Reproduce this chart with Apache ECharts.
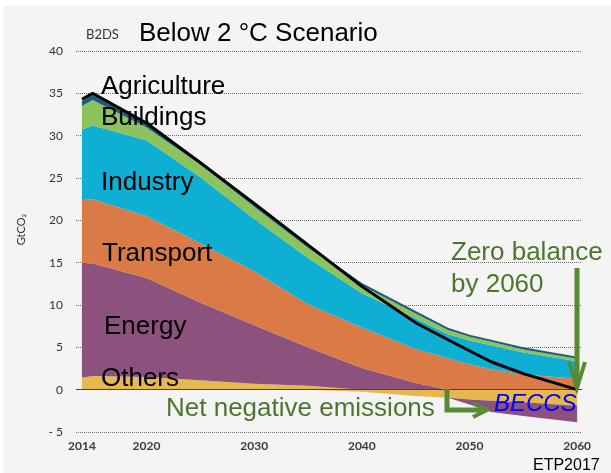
<!DOCTYPE html>
<html><head><meta charset="utf-8">
<script src="https://cdn.jsdelivr.net/npm/echarts@6/dist/echarts.min.js"></script>
<style>
html,body{margin:0;padding:0;background:#fff;}
#bg{position:absolute;left:3px;top:6px;width:608px;height:467px;background:#f4f4f4;}
#chart{position:absolute;left:0;top:0;width:611px;height:473px;}
</style></head><body>
<div id="bg"></div><div id="chart"></div>
<script>
// ---- data (GtCO2) ----
const years       = [2014, 2015, 2020, 2025, 2030, 2035, 2040, 2045, 2048, 2050, 2052, 2055, 2060];
const others      = [1.4, 1.6, 1.5, 1.1, 0.7, 0.45, -0.25, -0.75, -0.95, -1.15, -1.3, -1.5, -1.9];
const energy      = [13.6, 13.3, 11.7, 9.2, 6.9, 4.55, 2.55, 0.8, 0, -0.6, -1.35, -1.6, -1.95];
const transport   = [7.4, 7.6, 7.3, 7.0, 6.4, 5.1, 4.8, 4.0, 3.7, 3.0, 2.4, 1.8, 1.3];
const industry    = [8.3, 8.7, 8.95, 7.8, 6.2, 5.45, 4.05, 3.6, 2.85, 2.8, 2.85, 2.6, 2.05];
const buildings   = [2.8, 3.0, 1.5, 1.5, 1.4, 1.2, 0.9, 0.6, 0.5, 0.45, 0.4, 0.35, 0.3];
const agriculture = [0.6, 0.6, 0.45, 0.4, 0.4, 0.35, 0.3, 0.3, 0.25, 0.25, 0.25, 0.25, 0.25];
const netTotal    = [34.3, 35.0, 31.5, 26.8, 22.0, 17.1, 12.2, 7.9, 5.9, 4.6, 3.3, 1.9, 0];
const xTickYears  = [2014, 2020, 2030, 2040, 2050, 2060];

const colors = {
  others: '#e6b94f', energy: '#8d517e', transport: '#d97a47',
  industry: '#0fafd4', buildings: '#8cc35c', agriculture: '#1f5c79'
};

// value first, year second, so that the stack is computed on the value dimension
const pairs = arr => years.map((y, i) => [arr[i], y]);
const pos = arr => pairs(arr.map(v => Math.max(v, 0)));
const neg = arr => pairs(arr.map(v => Math.min(v, 0)));

function area(name, data, color, stack) {
  return {
    name, type: 'line', stack, stackStrategy: 'all', data,
    encode: { x: 1, y: 0 },
    symbol: 'none', smooth: false,
    lineStyle: { width: 0 }, areaStyle: { color, opacity: 1 },
    itemStyle: { color }, z: 2
  };
}

const chart = echarts.init(document.getElementById('chart'), null, { renderer: 'canvas' });
const green = '#4d7530', arrowGreen = '#578a33';
const labelFont = 'Liberation Sans, Arial, sans-serif';

chart.setOption({
  animation: false,
  backgroundColor: 'transparent',
  grid: { left: 76, right: 29, top: 51, bottom: 41, containLabel: false },
  xAxis: {
    type: 'value', min: 2013.45, max: 2060.45,
    axisLine: { show: false }, axisTick: { show: false }, splitLine: { show: false },
    axisLabel: {
      customValues: xTickYears, formatter: v => String(v), margin: 8,
      color: '#3a3a3a', fontSize: 12, fontWeight: 'bold', fontFamily: 'Lato, sans-serif'
    }
  },
  yAxis: {
    type: 'value', min: -5, max: 40, interval: 5,
    name: 'GtCO\u2082', nameLocation: 'middle', nameGap: 49,
    nameTextStyle: { color: '#333', fontSize: 11, fontFamily: 'Lato, sans-serif', padding: [0, 0, 0, 24] },
    axisLine: { show: false }, axisTick: { show: false },
    axisLabel: {
      formatter: v => (v < 0 ? '- ' + (-v) : String(v)), margin: 13,
      color: '#333', fontSize: 12, fontFamily: 'Lato, sans-serif'
    },
    splitLine: { show: true, lineStyle: { type: 'dotted', color: '#6a6a6a', width: 1 } }
  },
  series: [
    area('Others', pos(others), colors.others, 'pos'),
    area('Energy', pos(energy), colors.energy, 'pos'),
    area('Transport', pairs(transport), colors.transport, 'pos'),
    area('Industry', pairs(industry), colors.industry, 'pos'),
    area('Buildings', pairs(buildings), colors.buildings, 'pos'),
    area('Agriculture', pairs(agriculture), colors.agriculture, 'pos'),
    area('Others (negative)', neg(others), colors.others, 'neg'),
    area('Energy (BECCS)', neg(energy), colors.energy, 'neg'),
    {
      name: 'Net emissions', type: 'line', data: pairs(netTotal), encode: { x: 1, y: 0 },
      symbol: 'none', smooth: false, lineStyle: { color: '#000', width: 3 }, z: 5,
      markLine: {
        silent: true, symbol: 'none', label: { show: false },
        lineStyle: { color: '#444', type: 'solid', width: 1.2 },
        data: [{ yAxis: 0 }]
      }
    }
  ],
  graphic: [
    { type: 'text', left: 86, top: 28, style: { text: 'B2DS', font: '13px Lato, sans-serif', fill: '#333' } },
    { type: 'text', x: 139, y: 34, style: { text: 'Below 2 \u00b0C Scenario', font: '26px ' + labelFont, fill: '#000', verticalAlign: 'middle' } },
    { type: 'text', x: 101, y: 87, z: 10, style: { text: 'Agriculture', font: '26px ' + labelFont, fill: '#000', verticalAlign: 'middle' } },
    { type: 'text', x: 101, y: 118, z: 10, style: { text: 'Buildings', font: '26px ' + labelFont, fill: '#000', verticalAlign: 'middle' } },
    { type: 'text', x: 101, y: 183, z: 10, style: { text: 'Industry', font: '26px ' + labelFont, fill: '#000', verticalAlign: 'middle' } },
    { type: 'text', x: 102, y: 254, z: 10, style: { text: 'Transport', font: '26px ' + labelFont, fill: '#000', verticalAlign: 'middle' } },
    { type: 'text', x: 104, y: 327, z: 10, style: { text: 'Energy', font: '26px ' + labelFont, fill: '#000', verticalAlign: 'middle' } },
    { type: 'text', x: 101, y: 379, z: 10, style: { text: 'Others', font: '26px ' + labelFont, fill: '#000', verticalAlign: 'middle' } },
    { type: 'text', x: 451, y: 253, z: 10, style: { text: 'Zero balance', font: '26px ' + labelFont, fill: green, verticalAlign: 'middle' } },
    { type: 'text', x: 451, y: 285, z: 10, style: { text: 'by 2060', font: '26px ' + labelFont, fill: green, verticalAlign: 'middle' } },
    { type: 'text', x: 166, y: 409, z: 10, style: { text: 'Net negative emissions', font: '26px ' + labelFont, fill: green, verticalAlign: 'middle' } },
    { type: 'text', x: 494, y: 404, z: 10, style: { text: 'BECCS', font: 'italic 24px ' + labelFont, fill: '#0000ff', verticalAlign: 'middle' } },
    { type: 'text', x: 533, y: 466, z: 10, style: { text: 'ETP2017', font: '16px ' + labelFont, fill: '#000', verticalAlign: 'middle' } },
    { type: 'polyline', z: 10, shape: { points: [[577, 268], [577, 385]] }, style: { stroke: arrowGreen, lineWidth: 5, fill: null } },
    { type: 'polyline', z: 10, shape: { points: [[569, 362], [577, 388], [585, 362]] }, style: { stroke: arrowGreen, lineWidth: 4, fill: null, lineJoin: 'miter' } },
    { type: 'polyline', z: 10, shape: { points: [[447, 389], [447, 410], [482, 410]] }, style: { stroke: arrowGreen, lineWidth: 5, fill: null, lineJoin: 'miter' } },
    { type: 'polyline', z: 10, shape: { points: [[473, 403], [487, 410], [473, 417]] }, style: { stroke: arrowGreen, lineWidth: 4, fill: null, lineJoin: 'miter' } }
  ]
});
</script>
</body></html>
